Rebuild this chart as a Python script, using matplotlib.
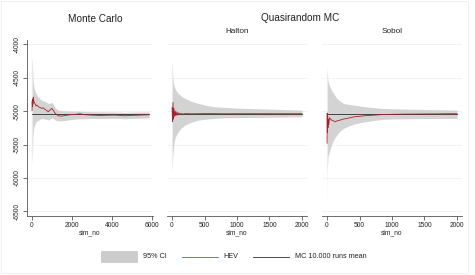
import matplotlib
matplotlib.use("Agg")
import matplotlib.pyplot as plt
from matplotlib.patches import Rectangle
from matplotlib.lines import Line2D

plt.rcParams['font.family'] = ['Liberation Sans', 'DejaVu Sans']

# ---------------- data ----------------
mc_mean_level = -5040  # MC 10.000 runs mean

# Monte Carlo panel
mc_x = [1, 10, 20, 30, 45, 65, 90, 120, 150, 200, 250, 315, 400, 485, 560, 650, 730, 815,
        900, 985, 1070, 1150, 1230, 1315, 1500, 1650, 1900, 2150, 2400, 2650, 2985,
        3400, 3800, 4150, 4650, 5000, 5400, 5850]
mc_hev = [-4990, -4850, -4930, -4820, -4900, -4790, -4850, -4870, -4890, -4920, -4910, -4935,
          -4945, -4960, -4950, -4975, -4990, -5010, -4985, -4960, -4990, -5030, -5050, -5070,
          -5075, -5065, -5055, -5050, -5040, -5055, -5060, -5065, -5062, -5060, -5070, -5064,
          -5060, -5055]
mc_bx = [1, 15, 30, 45, 65, 90, 120, 150, 200, 250, 315, 400, 485, 560, 650, 730, 815,
         900, 985, 1070, 1150, 1230, 1315, 1500, 1650, 1900, 2150, 2400, 2650, 2985,
         3400, 3800, 4150, 4650, 5000, 5400, 5850]
mc_hi = [-4210, -4250, -4350, -4480, -4586, -4630, -4680, -4700, -4736, -4760, -4790,
         -4815, -4836, -4845, -4855, -4870, -4885, -4880, -4870, -4900, -4945, -4970, -4985,
         -4995, -4995, -4998, -5000, -5002, -5005, -5010, -5012, -5012, -5014, -5020, -5016,
         -5014, -5012]
mc_lo = [-5780, -5700, -5560, -5380, -5284, -5250, -5220, -5200, -5160, -5150, -5140,
         -5120, -5110, -5115, -5120, -5125, -5134, -5120, -5100, -5115, -5130, -5140, -5145,
         -5145, -5140, -5128, -5120, -5115, -5115, -5110, -5112, -5110, -5108, -5115, -5110,
         -5106, -5102]

# Halton panel
ha_x = [1, 8, 15, 22, 30, 40, 50, 60, 75, 90, 105, 120, 140, 170, 200, 300, 500, 800,
        1200, 1600, 2000]
ha_hev = [-4950, -5160, -4870, -5120, -4960, -5080, -5000, -5070, -5010, -5060, -5025,
          -5050, -5035, -5045, -5038, -5041, -5038, -5040, -5039, -5040, -5040]
ha_bx = [1, 5, 10, 20, 30, 46, 70, 97, 140, 200, 300, 405, 530, 662, 815, 1000, 1200,
         1500, 1800, 2000]
ha_hi = [-4240, -4330, -4450, -4563, -4620, -4662, -4705, -4736, -4775, -4810, -4855,
         -4885, -4915, -4936, -4945, -4955, -4962, -4970, -4980, -4985]
ha_lo = [-5905, -5820, -5700, -5582, -5490, -5403, -5350, -5309, -5255, -5209, -5165,
         -5134, -5120, -5109, -5100, -5098, -5095, -5092, -5088, -5085]

# Sobol panel
so_x = [1, 3, 6, 10, 15, 20, 28, 38, 47, 60, 80, 100, 125, 160, 200, 250, 307, 360, 420,
        500, 575, 650, 730, 850, 1000, 1200, 1500, 1800, 2000]
so_hev = [-5480, -5030, -5320, -5080, -5250, -5120, -5200, -5100, -5110, -5125, -5140,
          -5145, -5160, -5145, -5135, -5120, -5110, -5098, -5085, -5078, -5070, -5065,
          -5060, -5052, -5048, -5045, -5043, -5041, -5040]
so_bx = [1, 4, 15, 30, 47, 70, 100, 150, 200, 255, 330, 420, 550, 690, 850, 1000, 1300,
         1600, 2000]
so_hi = [-4313, -4420, -4550, -4600, -4637, -4690, -4736, -4810, -4850, -4885, -4900,
         -4910, -4930, -4945, -4960, -4965, -4972, -4978, -4985]
so_lo = [-6430, -5900, -5680, -5630, -5582, -5500, -5433, -5358, -5300, -5258, -5225,
         -5194, -5165, -5145, -5124, -5118, -5114, -5111, -5109]

y_ticks = [-4000, -4500, -5000, -5500, -6000, -6500]
mc_xticks = [0, 2000, 4000, 6000]
q_xticks = [0, 500, 1000, 1500, 2000]

titles_sub = ["Halton", "Sobol"]

# ---------------- styling ----------------
W, H = 475, 275
BAND = '#d3d3d3'
RED = '#a3222c'
BLACK = '#2b2b2b'
GRID = '#edf3f4'
AX = '#555555'
TXT = '#222222'

fig = plt.figure(figsize=(W / 100, H / 100), dpi=100)
fig.patch.set_facecolor('white')


def px_axes(l, r, t, b):
    return fig.add_axes([l / W, (H - b) / H, (r - l) / W, (b - t) / H])


ax1 = px_axes(27, 153, 40, 216)
ax2 = px_axes(167, 307, 40, 216)
ax3 = px_axes(322, 462, 40, 216)

panels = [
    (ax1, mc_x, mc_hev, mc_bx, mc_hi, mc_lo, mc_xticks, (-250, 6050)),
    (ax2, ha_x, ha_hev, ha_bx, ha_hi, ha_lo, q_xticks, (-77, 2077)),
    (ax3, so_x, so_hev, so_bx, so_hi, so_lo, q_xticks, (-77, 2077)),
]

for i, (ax, x, hev, bx, hi, lo, xt, xl) in enumerate(panels):
    ax.set_facecolor('white')
    for yt in y_ticks:
        ax.axhline(yt, color=GRID, lw=0.6, zorder=0)
    ax.fill_between(bx, lo, hi, color=BAND, lw=0, zorder=1)
    ax.plot([x[0], x[-1]], [mc_mean_level, mc_mean_level], color=BLACK, lw=0.6, zorder=2)
    ax.plot(x, hev, color=RED, lw=0.6, zorder=3)
    ax.set_xlim(*xl)
    ax.set_ylim(-6570, -3936)
    ax.set_xticks(xt)
    ax.set_xticklabels([str(v) for v in xt])
    ax.set_yticks(y_ticks)
    for s in ['top', 'right']:
        ax.spines[s].set_visible(False)
    ax.spines['bottom'].set_color(AX)
    ax.spines['bottom'].set_linewidth(0.6)
    ax.tick_params(axis='x', length=3, width=0.6, color=AX, labelsize=4.8,
                   labelcolor=TXT, pad=1)
    ax.set_xlabel('sim_no', fontsize=4.8, color=TXT, labelpad=0.5)
    if i == 0:
        ax.spines['left'].set_color(AX)
        ax.spines['left'].set_linewidth(0.6)
        ax.tick_params(axis='y', length=3, width=0.6, color=AX, labelsize=4.8,
                       labelcolor=TXT, pad=1.5)
        ax.set_yticklabels([str(v) for v in y_ticks], rotation=90, va='center')
    else:
        ax.spines['left'].set_visible(False)
        ax.tick_params(axis='y', left=False, labelleft=False)


def ftext(x, y, s, **kw):
    fig.text(x / W, 1 - y / H, s, **kw)


ftext(95, 19, "Monte Carlo", fontsize=7.2, ha='center', va='center', color=TXT)
ftext(300, 18.3, "Quasirandom MC", fontsize=7.2, ha='center', va='center', color=TXT)
ftext(237, 31.7, titles_sub[0], fontsize=5.9, ha='center', va='center', color=TXT)
ftext(392, 31.7, titles_sub[1], fontsize=5.9, ha='center', va='center', color=TXT)

# legend (manual)
ly = 256.5
fig.patches.append(Rectangle((101 / W, 1 - 262 / H), 36 / W, 11 / H, transform=fig.transFigure,
                             facecolor='#cccccc', edgecolor='#bdbdbd', lw=0.4))
ftext(143, ly, "95% CI", fontsize=5.2, ha='left', va='center', color=TXT)
fig.lines.append(Line2D([182 / W, 218 / W], [1 - ly / H, 1 - ly / H], transform=fig.transFigure,
                        color='#c23a46', lw=0.6))
ftext(223, ly, "HEV", fontsize=5.2, ha='left', va='center', color=TXT)
fig.lines.append(Line2D([253 / W, 289 / W], [1 - ly / H, 1 - ly / H], transform=fig.transFigure,
                        color=BLACK, lw=0.6))
ftext(295, ly, "MC 10.000 runs mean", fontsize=5.2, ha='left', va='center', color=TXT)

# faint outer frame
fig.patches.append(Rectangle((0.5 / W, 1 - 273 / H), 467 / W, 272 / H, transform=fig.transFigure,
                             facecolor='none', edgecolor='#eeeeee', lw=0.6))

fig.savefig('out.png', dpi=100)
